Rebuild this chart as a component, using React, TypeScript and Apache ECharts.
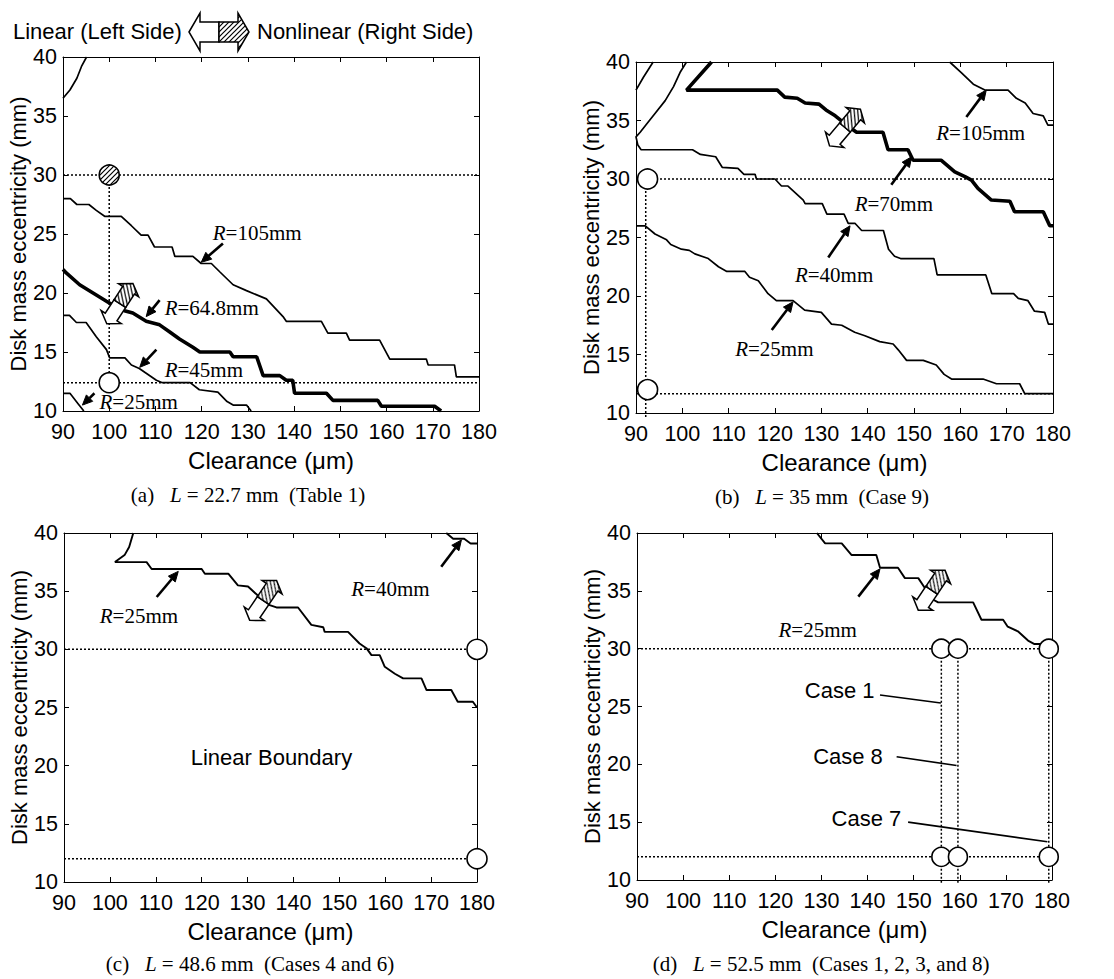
import React, { useEffect, useRef } from "react";
import * as echarts from "echarts";

// ---------- axes ----------
const X_MIN = 90;
const X_MAX = 180;
const X_INTERVAL = 10;
const Y_MIN = 10;
const Y_MAX = 40;
const Y_INTERVAL = 5;
const X_NAME = "Clearance (\u03bcm)";
const Y_NAME = "Disk mass eccentricity (mm)";

// ---------- panel (a) L=22.7 mm ----------
const aTopLeft = [[90, 36.5], [91.5, 37.2], [93, 38.2], [94, 39.2], [95.1, 40]];
const aR105 = [[90, 28], [91.6, 28], [93, 27.5], [95.6, 27.5], [97.2, 27], [99, 26.5], [102.6, 26.5], [104.8, 25.7], [106.9, 24.9], [108.4, 24.9], [109.8, 23.9], [113.6, 23.9], [114.2, 23.1], [118.1, 23.1], [119.9, 22.5], [122.1, 22.5], [123.9, 21.8], [126.8, 20.7], [129.7, 20.2], [134, 19.5], [137.6, 18], [138.3, 17.6], [145.9, 17.6], [147.3, 16.6], [151.3, 16.6], [152, 16], [158.5, 16], [160.7, 14.4], [168.6, 14.4], [169, 13.9], [174.7, 13.9], [175.1, 12.9], [180, 12.9]];
const aR648 = [[90, 22], [90.7, 21.7], [93.6, 20.7], [96.5, 20], [99.4, 19.3], [101.5, 18.8], [103.3, 18.5], [105.1, 18.3], [108, 17.6], [110.9, 17.3], [113.1, 16.7], [115.2, 16.1], [118.1, 15.4], [119.6, 15], [126.1, 15], [126.8, 14.6], [131.9, 14.6], [133.3, 13], [136.9, 13], [138.3, 12.6], [139.7, 12.6], [140.1, 11.5], [147, 11.5], [148.4, 10.9], [158.1, 10.9], [158.9, 10.4], [170.4, 10.4], [171.8, 10]];
const aR45 = [[90, 18.1], [91.4, 18.1], [92.9, 17.5], [95, 17.5], [97.2, 16.3], [99.4, 15.2], [100.1, 14.5], [103.4, 14.5], [104.8, 13.9], [106.5, 13.6], [108, 13.2], [110.2, 12.6], [111.5, 12.4], [117.5, 12.4], [119.5, 11.8], [123.5, 11.6], [125.5, 10.8], [126.8, 10.5], [129.7, 10.5], [130.7, 10]];
const aR25 = [[90, 11.5], [91.5, 11.5], [93.3, 10.6], [94.5, 10]];
const aCaseClearance = 100;
const aHighEcc = 30;
const aLowEcc = 12.4;
const aLabels = [
  { x: 122.4, y: 25.1, text: "R=105mm" },
  { x: 112.0, y: 18.7, text: "R=64.8mm" },
  { x: 112.0, y: 13.45, text: "R=45mm" },
  { x: 97.9, y: 10.76, text: "R=25mm" },
];
const aPointers = [
  [124.6, 24.2, 119.9, 22.6],
  [110.9, 19.4, 108.0, 18.0],
  [110.2, 15.2, 106.6, 13.7],
  [96.8, 11.5, 94.2, 10.5],
];
const aBoundaryArrow = [[102.3, 19.1, 57]];

// ---------- panel (b) L=35 mm ----------
const bTopLeft = [[90, 37.6], [91.6, 38.7], [93.7, 40]];
const bR40 = [[100.9, 40], [99.5, 39.1], [98.1, 37.9], [96.3, 36.7], [94.1, 35.6], [92.3, 34.7], [90.9, 34], [90, 33.6], [90.4, 32.9], [91.1, 32.5], [102.2, 32.5], [103.9, 32.1], [107.2, 31.9], [108.6, 31.0], [112, 30.9], [113.3, 30.4], [115.7, 30.4], [116, 30], [120, 30], [121.4, 29.4], [122.8, 29.4], [126.1, 28.2], [126.5, 27.9], [130.2, 27.9], [131.2, 27], [134.9, 27], [135.8, 26.2], [137.3, 26.2], [138.7, 25.6], [143.4, 25.6], [144.5, 24], [145.8, 23.4], [147.1, 23.2], [154.3, 23.2], [155, 21.8], [165.5, 21.8], [166.8, 20.2], [171.5, 20.2], [172.5, 19.8], [174.6, 19.6], [176, 18.7], [178.2, 18.6], [179, 17.6], [180, 17.6]];
const bR70 = [[106.3, 40], [100.9, 37.6], [107, 37.6], [120.5, 37.6], [122.1, 37], [124.8, 36.9], [126.5, 36.5], [129.5, 36.4], [131, 35.9], [133, 35.4], [135.5, 34.6], [137.6, 34], [143.3, 34], [144.4, 32.5], [148.7, 32.5], [149.8, 31.6], [155.9, 31.6], [158.8, 30.6], [161, 30.2], [162.4, 29.9], [163.8, 29.2], [166.7, 28.2], [170.7, 28.1], [171.7, 27.2], [177.9, 27.2], [179.3, 26], [180, 26]];
const bR105 = [[157.7, 40], [160.2, 39.1], [162.8, 38.1], [165.3, 37.6], [170.3, 37.6], [172.1, 36.9], [174, 36.5], [175.7, 35.6], [177.9, 35.4], [178.9, 34.6], [180, 34.6]];
const bR25 = [[90, 26], [92, 26], [94.1, 25.3], [96.6, 24.8], [97.5, 24.4], [99.8, 24], [101.5, 23.9], [102.7, 23.6], [105.6, 23.2], [107.8, 22.5], [109.6, 22.1], [113.5, 22.1], [114.5, 21.6], [116.4, 21.3], [118.5, 20.2], [120.3, 19.6], [123.9, 19.6], [126.4, 18.8], [130, 18.6], [132.2, 17.6], [134.4, 17.5], [137.2, 16.9], [139.4, 16.6], [142.6, 16.1], [145.5, 15.9], [146.6, 15.4], [148.4, 14.5], [152, 14.5], [154.8, 14.1], [156.5, 13.3], [158.1, 12.9], [164.9, 12.9], [167.8, 12.5], [172.8, 12.5], [173.9, 11.65], [180, 11.65]];
const bCaseClearance = 92.5;
const bGuideClearance = 92.1;
const bHighEcc = 30;
const bLowEcc = 12.0;
const bLowGuide = 11.65;
const bLabels = [
  { x: 154.8, y: 33.9, text: "R=105mm" },
  { x: 137.2, y: 27.9, text: "R=70mm" },
  { x: 124.3, y: 21.8, text: "R=40mm" },
  { x: 111.4, y: 15.5, text: "R=25mm" },
];
const bPointers = [
  [161.3, 35.3, 165.6, 37.6],
  [145.1, 29.5, 149.5, 31.9],
  [131.5, 23.3, 136.2, 26.0],
  [119.3, 17.1, 123.9, 19.5],
];
const bBoundaryArrow = [[135.1, 34.4, 50]];

// ---------- panel (c) L=48.6 mm ----------
const cR25 = [[105.1, 40], [104.2, 38.8], [103.2, 38.1], [101.1, 37.5], [108, 37.5], [109.1, 36.9], [120, 36.9], [120.7, 36.5], [125.8, 36.5], [127.9, 35.5], [130.1, 35.4], [132.3, 34.6], [134, 33.9], [136.3, 33.6], [141, 33.6], [143.9, 32.1], [146.5, 31.9], [146.8, 31.5], [151.9, 31.5], [154.4, 30.5], [155.9, 30.1], [157, 29.5], [158.8, 29.5], [159.9, 28.5], [162.1, 27.9], [163.9, 27.5], [167.9, 27.5], [169, 26.5], [174.4, 26.5], [175.8, 25.5], [179.1, 25.5], [180, 25]];
const cR40 = [[173.3, 40], [174.8, 39.5], [177.2, 39.5], [178.6, 39.1], [180, 39.1]];
const cCaseClearance = 180;
const cHighEcc = 30;
const cLowEcc = 12;
const cLabels = [
  { x: 97.8, y: 32.9, text: "R=25mm" },
  { x: 152.6, y: 35.2, text: "R=40mm" },
];
const cRegionLabel = [{ x: 135.2, y: 20.7, text: "Linear Boundary" }];
const cPointers = [
  [110.2, 34.5, 114.9, 36.7],
  [172.2, 37.1, 176.6, 39.4],
];
const cBoundaryArrow = [[133.4, 34.2, 56]];

// ---------- panel (d) L=52.5 mm ----------
const dR25 = [[129, 40], [130.8, 39.1], [134.4, 39.1], [136.5, 38.1], [141.9, 38.1], [142.7, 37], [146.6, 37], [148.1, 36.1], [151, 36.1], [152.5, 35.2], [153.5, 34.4], [155.3, 34], [162.9, 34], [164.7, 32.5], [169.4, 32.5], [170.4, 31.9], [172.6, 31.5], [174.8, 30.7], [176.2, 30.4], [179.1, 30.4]];
const dCaseClearances = [156, 159.6, 179.3];
const dHighEcc = 30;
const dLowEcc = 12;
const dLabels = [{ x: 120.7, y: 31.6, text: "R=25mm" }];
const dCaseLabels = [
  { x: 126.4, y: 26.4, text: "Case 1" },
  { x: 128.2, y: 20.65, text: "Case 8" },
  { x: 132.2, y: 15.3, text: "Case 7" },
];
const dLeaders = [
  [[142.7, 26.0], [155.9, 25.3]],
  [[146.3, 20.65], [159.3, 19.9]],
  [[148.8, 15.0], [179.0, 13.3]],
];
const dPointers = [[138.0, 34.5, 142.7, 36.9]];
const dBoundaryArrow = [[153.9, 35.05, 56]];

// ---------- captions ----------
const captions = [
  { tag: "(a)", rest: " = 22.7 mm  (Table 1)" },
  { tag: "(b)", rest: " = 35 mm  (Case 9)" },
  { tag: "(c)", rest: " = 48.6 mm  (Cases 4 and 6)" },
  { tag: "(d)", rest: " = 52.5 mm  (Cases 1, 2, 3, and 8)" },
];

// ---------- layout / style ----------
const SANS = "'Liberation Sans', Arial, Helvetica, sans-serif";
const SERIF = "'Liberation Serif', 'Times New Roman', serif";
const GRIDS = [
  { left: 63, top: 57, width: 416, height: 354 },
  { left: 636, top: 62, width: 417, height: 351 },
  { left: 64, top: 533, width: 413, height: 349 },
  { left: 637, top: 533, width: 415, height: 347 },
];
const CAPTION_POS = [
  [248, 495],
  [822, 497],
  [250, 964],
  [821, 964],
];

const HATCH_SVG =
  '<svg xmlns="http://www.w3.org/2000/svg" width="5" height="5"><rect width="5" height="5" fill="#fff"/><path d="M-1,1 L1,-1 M0,5 L5,0 M4,6 L6,4" stroke="#000" stroke-width="1.2"/></svg>';
const HATCH: any = {
  image: "data:image/svg+xml;charset=utf-8," + encodeURIComponent(HATCH_SVG),
  repeat: "repeat",
  imageWidth: 5,
  imageHeight: 5,
};

function arrowShapes(L: number, hl: number, hw: number, sw: number) {
  const white = [[-L, 0], [-L + hl, -hw], [-L + hl, -sw], [0, -sw], [0, sw], [-L + hl, sw], [-L + hl, hw]];
  const hatched = [[0, -sw], [L - hl, -sw], [L - hl, -hw], [L, 0], [L - hl, hw], [L - hl, sw], [0, sw]];
  return { white, hatched };
}

function curve(gi: number, data: number[][], width = 1.7) {
  return {
    type: "line",
    xAxisIndex: 2 * gi,
    yAxisIndex: 2 * gi,
    data,
    symbol: "none",
    silent: true,
    z: 3,
    lineStyle: { color: "#000", width },
  };
}

function dotted(gi: number, data: number[][], clip = true) {
  return {
    type: "line",
    xAxisIndex: 2 * gi,
    yAxisIndex: 2 * gi,
    data,
    symbol: "none",
    silent: true,
    clip,
    z: 2,
    lineStyle: { color: "#000", width: 1.5, type: [2, 2] },
  };
}

function circles(gi: number, data: number[][], size = 20) {
  return {
    type: "scatter",
    xAxisIndex: 2 * gi,
    yAxisIndex: 2 * gi,
    data,
    symbol: "circle",
    symbolSize: size,
    silent: true,
    clip: false,
    z: 6,
    itemStyle: { color: "#fff", borderColor: "#000", borderWidth: 1.6, opacity: 1 },
  };
}

function hatchedCircles(gi: number, data: number[][], r = 10) {
  return {
    type: "custom",
    xAxisIndex: 2 * gi,
    yAxisIndex: 2 * gi,
    data,
    silent: true,
    clip: false,
    z: 6,
    renderItem: (params: any, api: any) => {
      const p = api.coord([api.value(0), api.value(1)]);
      return {
        type: "circle",
        shape: { cx: p[0], cy: p[1], r },
        style: { fill: HATCH, stroke: "#000", lineWidth: 1.6 },
      };
    },
  };
}

function rLabels(gi: number, items: { x: number; y: number; text: string }[]) {
  return {
    type: "custom",
    xAxisIndex: 2 * gi,
    yAxisIndex: 2 * gi,
    data: items.map((d) => [d.x, d.y]),
    silent: true,
    clip: false,
    z: 7,
    renderItem: (params: any, api: any) => {
      const it = items[params.dataIndex];
      const p = api.coord([api.value(0), api.value(1)]);
      const rest = it.text.slice(1);
      return {
        type: "text",
        x: p[0],
        y: p[1],
        style: {
          text: "{i|R}{n|" + rest + "}",
          rich: {
            i: { fontStyle: "italic", fontFamily: SERIF, fontSize: 21, fill: "#000" },
            n: { fontFamily: SERIF, fontSize: 21, fill: "#000" },
          },
          fontFamily: SERIF,
          fontSize: 21,
          fill: "#000",
          align: "left",
          verticalAlign: "middle",
        },
      };
    },
  };
}

function sansLabels(gi: number, items: { x: number; y: number; text: string }[], align = "left") {
  return {
    type: "custom",
    xAxisIndex: 2 * gi,
    yAxisIndex: 2 * gi,
    data: items.map((d) => [d.x, d.y]),
    silent: true,
    clip: false,
    z: 7,
    renderItem: (params: any, api: any) => {
      const it = items[params.dataIndex];
      const p = api.coord([api.value(0), api.value(1)]);
      return {
        type: "text",
        x: p[0],
        y: p[1],
        style: {
          text: it.text,
          fontFamily: SANS,
          fontSize: 22,
          fill: "#000",
          align,
          verticalAlign: "middle",
        },
      };
    },
  };
}

function pointers(gi: number, items: number[][]) {
  return {
    type: "custom",
    xAxisIndex: 2 * gi,
    yAxisIndex: 2 * gi,
    data: items,
    silent: true,
    clip: false,
    z: 7,
    renderItem: (params: any, api: any) => {
      const p1 = api.coord([api.value(0), api.value(1)]);
      const p2 = api.coord([api.value(2), api.value(3)]);
      const dx = p2[0] - p1[0];
      const dy = p2[1] - p1[1];
      const len = Math.hypot(dx, dy) || 1;
      const ux = dx / len;
      const uy = dy / len;
      const hl = 10;
      const hw = 4.5;
      const bx = p2[0] - ux * hl;
      const by = p2[1] - uy * hl;
      return {
        type: "group",
        children: [
          { type: "line", shape: { x1: p1[0], y1: p1[1], x2: bx, y2: by }, style: { stroke: "#000", lineWidth: 2.6 } },
          {
            type: "polygon",
            shape: { points: [[p2[0], p2[1]], [bx - uy * hw, by + ux * hw], [bx + uy * hw, by - ux * hw]] },
            style: { fill: "#000", stroke: "#000", lineWidth: 1 },
          },
        ],
      };
    },
  };
}

function boundaryArrows(gi: number, items: number[][]) {
  const s = arrowShapes(24, 8, 12, 7);
  return {
    type: "custom",
    xAxisIndex: 2 * gi,
    yAxisIndex: 2 * gi,
    data: items,
    silent: true,
    clip: false,
    z: 8,
    renderItem: (params: any, api: any) => {
      const p = api.coord([api.value(0), api.value(1)]);
      const ang = (api.value(2) * Math.PI) / 180;
      return {
        type: "group",
        x: p[0],
        y: p[1],
        rotation: ang,
        children: [
          { type: "polygon", shape: { points: s.white }, style: { fill: "#fff", stroke: "#000", lineWidth: 1.5 } },
          { type: "polygon", shape: { points: s.hatched }, style: { fill: HATCH, stroke: "#000", lineWidth: 1.5 } },
        ],
      };
    },
  };
}

function buildOption() {
  const xAxis: any[] = [];
  const yAxis: any[] = [];
  const grid: any[] = [];
  const axisLine = { show: true, onZero: false, lineStyle: { color: "#000", width: 1 } };
  const axisTick = { show: true, inside: true, length: 5, lineStyle: { color: "#000", width: 1 } };
  GRIDS.forEach((g, i) => {
    grid.push({ ...g, containLabel: false, outerBoundsMode: "none", show: false });
    xAxis.push({
      gridIndex: i,
      type: "value",
      position: "bottom",
      min: X_MIN,
      max: X_MAX,
      interval: X_INTERVAL,
      name: X_NAME,
      nameLocation: "middle",
      nameGap: 37,
      nameMoveOverlap: false,
      nameTextStyle: { color: "#000", fontFamily: SANS, fontSize: 24 },
      axisLine,
      axisTick,
      axisLabel: { color: "#000", fontFamily: SANS, fontSize: 21.5, margin: 10 },
      splitLine: { show: false },
    });
    xAxis.push({
      gridIndex: i,
      type: "value",
      position: "top",
      min: X_MIN,
      max: X_MAX,
      interval: X_INTERVAL,
      axisLine,
      axisTick,
      axisLabel: { show: false },
      splitLine: { show: false },
    });
    yAxis.push({
      gridIndex: i,
      type: "value",
      position: "left",
      min: Y_MIN,
      max: Y_MAX,
      interval: Y_INTERVAL,
      name: Y_NAME,
      nameLocation: "middle",
      nameGap: 34,
      nameMoveOverlap: false,
      nameTextStyle: { color: "#000", fontFamily: SANS, fontSize: 22 },
      axisLine,
      axisTick,
      axisLabel: { color: "#000", fontFamily: SANS, fontSize: 21.5, margin: 6 },
      splitLine: { show: false },
    });
    yAxis.push({
      gridIndex: i,
      type: "value",
      position: "right",
      min: Y_MIN,
      max: Y_MAX,
      interval: Y_INTERVAL,
      axisLine,
      axisTick,
      axisLabel: { show: false },
      splitLine: { show: false },
    });
  });

  const series: any[] = [
    // (a)
    dotted(0, [[X_MIN, aHighEcc], [X_MAX, aHighEcc]]),
    dotted(0, [[X_MIN, aLowEcc], [X_MAX, aLowEcc]]),
    dotted(0, [[aCaseClearance, aHighEcc], [aCaseClearance, aLowEcc]]),
    curve(0, aTopLeft),
    curve(0, aR105),
    curve(0, aR648, 3.6),
    curve(0, aR45),
    curve(0, aR25),
    hatchedCircles(0, [[aCaseClearance, aHighEcc]]),
    circles(0, [[aCaseClearance, aLowEcc]]),
    rLabels(0, aLabels),
    pointers(0, aPointers),
    boundaryArrows(0, aBoundaryArrow),
    // (b)
    dotted(1, [[X_MIN, bHighEcc], [X_MAX, bHighEcc]]),
    dotted(1, [[X_MIN, bLowGuide], [X_MAX, bLowGuide]]),
    dotted(1, [[bGuideClearance, bHighEcc], [bGuideClearance, 9.6]], false),
    curve(1, bTopLeft),
    curve(1, bR40),
    curve(1, bR70, 3.6),
    curve(1, bR105),
    curve(1, bR25),
    circles(1, [[bCaseClearance, bHighEcc], [bCaseClearance, bLowEcc]]),
    rLabels(1, bLabels),
    pointers(1, bPointers),
    boundaryArrows(1, bBoundaryArrow),
    // (c)
    dotted(2, [[X_MIN, cHighEcc], [X_MAX, cHighEcc]]),
    dotted(2, [[X_MIN, cLowEcc], [X_MAX, cLowEcc]]),
    curve(2, cR25, 1.9),
    curve(2, cR40, 1.9),
    circles(2, [[cCaseClearance, cHighEcc], [cCaseClearance, cLowEcc]]),
    rLabels(2, cLabels),
    sansLabels(2, cRegionLabel, "center"),
    pointers(2, cPointers),
    boundaryArrows(2, cBoundaryArrow),
    // (d)
    dotted(3, [[X_MIN, dHighEcc], [X_MAX, dHighEcc]]),
    dotted(3, [[X_MIN, dLowEcc], [X_MAX, dLowEcc]]),
    ...dCaseClearances.map((c) => dotted(3, [[c, dHighEcc], [c, 9.6]], false)),
    curve(3, dR25, 1.9),
    ...dLeaders.map((l) => ({ ...curve(3, l, 1.6), z: 4 })),
    circles(3, [...dCaseClearances.map((c) => [c, dHighEcc]), ...dCaseClearances.map((c) => [c, dLowEcc])], 19),
    rLabels(3, dLabels),
    sansLabels(3, dCaseLabels),
    pointers(3, dPointers),
    boundaryArrows(3, dBoundaryArrow),
  ];

  const legendArrow = arrowShapes(30, 11, 19, 10);
  const graphic: any[] = [
    {
      type: "text",
      x: 13,
      y: 31,
      style: { text: "Linear (Left Side)", fontFamily: SANS, fontSize: 22, fill: "#000", align: "left", verticalAlign: "middle" },
    },
    {
      type: "group",
      x: 219,
      y: 32,
      children: [
        { type: "polygon", shape: { points: legendArrow.white }, style: { fill: "#fff", stroke: "#000", lineWidth: 1.5 } },
        { type: "polygon", shape: { points: legendArrow.hatched }, style: { fill: HATCH, stroke: "#000", lineWidth: 1.5 } },
      ],
    },
    {
      type: "text",
      x: 257,
      y: 31,
      style: { text: "Nonlinear (Right Side)", fontFamily: SANS, fontSize: 22, fill: "#000", align: "left", verticalAlign: "middle" },
    },
    ...captions.map((c, i) => ({
      type: "text",
      x: CAPTION_POS[i][0],
      y: CAPTION_POS[i][1],
      style: {
        text: "{n|" + c.tag + "   }{i|L}{n|" + c.rest + "}",
        rich: {
          i: { fontStyle: "italic", fontFamily: SERIF, fontSize: 21, fill: "#000" },
          n: { fontFamily: SERIF, fontSize: 21, fill: "#000" },
        },
        fontFamily: SERIF,
        fontSize: 21,
        fill: "#000",
        align: "center",
        verticalAlign: "middle",
      },
    })),
  ];

  return {
    animation: false,
    backgroundColor: "#fff",
    grid,
    xAxis,
    yAxis,
    series,
    graphic,
  };
}

export default function App() {
  const ref = useRef<HTMLDivElement>(null);
  useEffect(() => {
    if (!ref.current) return;
    const chart = echarts.init(ref.current, undefined, { renderer: "svg" });
    chart.setOption(buildOption() as any);
    return () => chart.dispose();
  }, []);
  return (
    <div
      ref={ref}
      style={{ position: "absolute", left: 0, top: 0, width: 1114, height: 979, background: "#fff" }}
    />
  );
}
